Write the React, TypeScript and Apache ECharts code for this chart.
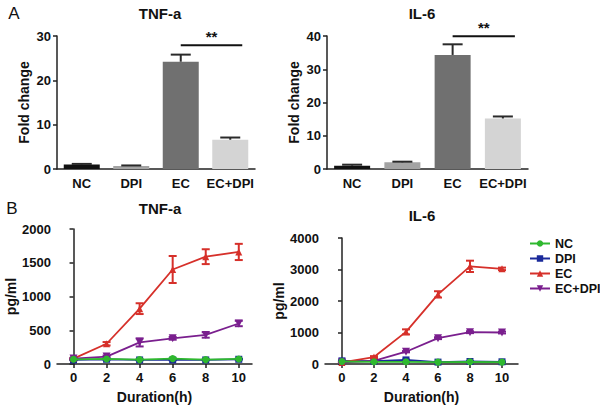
import React, { useEffect, useRef } from "react";
import * as echarts from "echarts";

const barCats = ["NC", "DPI", "EC", "EC+DPI"];
const tnfBar = [1.0, 0.7, 24.2, 6.6];
const tnfBarErr = [0.15, 0.1, 1.6, 0.5];
const il6Bar = [1.0, 2.0, 34.3, 15.2];
const il6BarErr = [0.3, 0.2, 3.2, 0.6];
const barColors = ["#111111", "#a3a3a3", "#707070", "#d4d4d4"];
const tnfSigY = 27.9;
const il6SigY = 39.9;

const hours = [0, 2, 4, 6, 8, 10];
const tnfNC = [70, 75, 65, 80, 65, 75];
const tnfNCErr = [10, 5, 5, 10, 5, 5];
const tnfDPI = [60, 70, 60, 60, 60, 70];
const tnfDPIErr = [5, 5, 5, 5, 5, 5];
const tnfEC = [80, 300, 820, 1400, 1590, 1660];
const tnfECErr = [10, 25, 80, 200, 110, 120];
const tnfECDPI = [80, 110, 320, 380, 430, 600];
const tnfECDPIErr = [10, 15, 60, 20, 40, 40];

const il6NC = [80, 70, 70, 60, 70, 60];
const il6NCErr = [10, 5, 5, 5, 5, 5];
const il6DPI = [100, 90, 130, 60, 80, 70];
const il6DPIErr = [10, 5, 10, 5, 5, 5];
const il6EC = [50, 220, 1020, 2210, 3100, 3020];
const il6ECErr = [10, 30, 80, 100, 180, 40];
const il6ECDPI = [50, 100, 390, 820, 1010, 1000];
const il6ECDPIErr = [5, 10, 20, 30, 30, 30];

const seriesNames = ["NC", "DPI", "EC", "EC+DPI"];
const lineColors = ["#2fb82f", "#1a2a9a", "#d6302a", "#7a1f8e"];
const symbols = ["circle", "rect", "triangle", "path://M0,0 L10,0 L5,10 Z"];

const FONT = "Liberation Sans, Arial, sans-serif";
const AX = "#222";

function barErrSeries(vals: number[], errs: number[], idx: number) {
  return {
    type: "custom",
    xAxisIndex: idx,
    yAxisIndex: idx,
    z: 5,
    data: vals.map((v, i) => [i, v, errs[i]]),
    renderItem: (params: any, api: any) => {
      const x = api.value(0), y = api.value(1), e = api.value(2);
      const b = api.coord([x, y]);
      const t = api.coord([x, y + e]);
      const hw = 10;
      const st = { stroke: "#2a2a2a", lineWidth: 2 };
      return {
        type: "group",
        children: [
          { type: "line", shape: { x1: b[0], y1: b[1], x2: t[0], y2: t[1] }, style: st },
          { type: "line", shape: { x1: t[0] - hw, y1: t[1], x2: t[0] + hw, y2: t[1] }, style: st },
        ],
      };
    },
  };
}

function sigSeries(idx: number, y: number) {
  return {
    type: "custom",
    xAxisIndex: idx,
    yAxisIndex: idx,
    z: 6,
    silent: true,
    data: [[2, 3, y]],
    renderItem: (params: any, api: any) => {
      const a = api.coord([api.value(0), api.value(2)]);
      const b = api.coord([api.value(1), api.value(2)]);
      const x2 = b[0] + 12;
      return {
        type: "group",
        children: [
          { type: "line", shape: { x1: a[0], y1: a[1], x2, y2: a[1] }, style: { stroke: "#111", lineWidth: 2 } },
          {
            type: "text",
            x: (a[0] + x2) / 2,
            y: a[1] - 1,
            style: {
              text: "**",
              fill: "#111",
              font: `bold 15px ${FONT}`,
              textAlign: "center",
              textVerticalAlign: "bottom",
            },
          },
        ],
      };
    },
  };
}

function lineErrSeries(vals: number[], errs: number[], idx: number, color: string) {
  return {
    type: "custom",
    xAxisIndex: idx,
    yAxisIndex: idx,
    z: 4,
    data: vals.map((v, i) => [hours[i], v, errs[i]]),
    renderItem: (params: any, api: any) => {
      const x = api.value(0), y = api.value(1), e = api.value(2);
      const t = api.coord([x, y + e]);
      const b = api.coord([x, y - e]);
      const hw = 4;
      const st = { stroke: color, lineWidth: 2 };
      return {
        type: "group",
        children: [
          { type: "line", shape: { x1: b[0], y1: b[1], x2: t[0], y2: t[1] }, style: st },
          { type: "line", shape: { x1: t[0] - hw, y1: t[1], x2: t[0] + hw, y2: t[1] }, style: st },
          { type: "line", shape: { x1: b[0] - hw, y1: b[1], x2: b[0] + hw, y2: b[1] }, style: st },
        ],
      };
    },
  };
}

const axisLineStyle = { show: true, lineStyle: { color: AX, width: 1.5 } };
const labelStyle = { color: "#111", fontFamily: FONT, fontWeight: "bold" as const, fontSize: 13 };
const nameStyle = { color: "#111", fontFamily: FONT, fontWeight: "bold" as const, fontSize: 14 };

export default function App() {
  const ref = useRef<HTMLDivElement>(null);
  useEffect(() => {
    if (!ref.current) return;
    const chart = echarts.init(ref.current, null, { renderer: "svg" });

    const barX = (idx: number) => ({
      type: "category",
      gridIndex: idx,
      data: barCats,
      axisLine: axisLineStyle,
      axisTick: { show: false },
      axisLabel: { ...labelStyle, margin: 8, interval: 0 },
    });
    const valY = (idx: number, max: number, interval: number, name: string, gap: number) => ({
      type: "value",
      gridIndex: idx,
      min: 0,
      max,
      interval,
      name,
      nameLocation: "middle",
      nameGap: gap,
      nameTextStyle: nameStyle,
      axisLine: axisLineStyle,
      axisTick: { show: true, length: 4, lineStyle: { color: AX, width: 1.5 } },
      axisLabel: { ...labelStyle, margin: 6, formatter: (v: number) => String(v) },
      splitLine: { show: false },
    });
    const lineX = (idx: number, min: number, max: number) => ({
      type: "value",
      gridIndex: idx,
      min,
      max,
      name: "Duration(h)",
      nameLocation: "middle",
      nameGap: 26,
      nameTextStyle: nameStyle,
      axisLine: axisLineStyle,
      axisTick: { show: true, length: 4, customValues: hours, lineStyle: { color: AX, width: 1.5 } },
      axisLabel: { ...labelStyle, margin: 7, customValues: hours },
      splitLine: { show: false },
    });

    const lineSeries = (idx: number, datas: number[][]) =>
      datas.map((d, k) => ({
        type: "line",
        name: seriesNames[k],
        xAxisIndex: idx,
        yAxisIndex: idx,
        data: d.map((v, i) => [hours[i], v]),
        symbol: symbols[k],
        symbolSize: k === 3 ? 8 : 7,
        itemStyle: { color: lineColors[k] },
        lineStyle: { color: lineColors[k], width: 1.8 },
        z: k === 0 ? 6 : 3,
      }));

    const titleText = (text: string, x: number, y: number, size = 15, bold = true) => ({
      type: "text",
      x,
      y,
      style: {
        text,
        fill: "#111",
        font: `${bold ? "bold " : ""}${size}px ${FONT}`,
        textAlign: "center",
        textVerticalAlign: "middle",
      },
    });

    const option: any = {
      animation: false,
      backgroundColor: "#fff",
      grid: [
        { left: 57, top: 36, width: 198, height: 133 },
        { left: 327, top: 36, width: 201, height: 133 },
        { left: 57, top: 229, width: 195, height: 135 },
        { left: 325, top: 238, width: 193, height: 126 },
      ],
      xAxis: [barX(0), barX(1), lineX(2, -1, 10.8), lineX(3, -1.06, 11)],
      yAxis: [
        valY(0, 30, 10, "Fold change", 26),
        valY(1, 40, 10, "Fold change", 26),
        valY(2, 2000, 500, "pg/ml", 38),
        valY(3, 4000, 1000, "pg/ml", 35),
      ],
      legend: {
        orient: "vertical",
        left: 524,
        top: 232,
        itemGap: 2,
        itemWidth: 20,
        itemHeight: 8,
        data: seriesNames,
        textStyle: { ...labelStyle, fontSize: 12.5 },
      },
      graphic: [
        titleText("A", 14, 13, 17, false),
        titleText("B", 12, 208, 17, false),
        titleText("TNF-a", 160, 13),
        titleText("IL-6", 422, 13),
        titleText("TNF-a", 160, 208),
        titleText("IL-6", 422, 215),
      ],
      series: [
        {
          type: "bar",
          xAxisIndex: 0,
          yAxisIndex: 0,
          barWidth: 36,
          data: tnfBar.map((v, i) => ({ value: v, itemStyle: { color: barColors[i] } })),
        },
        barErrSeries(tnfBar, tnfBarErr, 0),
        sigSeries(0, tnfSigY),
        {
          type: "bar",
          xAxisIndex: 1,
          yAxisIndex: 1,
          barWidth: 36,
          data: il6Bar.map((v, i) => ({ value: v, itemStyle: { color: barColors[i] } })),
        },
        barErrSeries(il6Bar, il6BarErr, 1),
        sigSeries(1, il6SigY),
        ...lineSeries(2, [tnfNC, tnfDPI, tnfEC, tnfECDPI]),
        lineErrSeries(tnfNC, tnfNCErr, 2, lineColors[0]),
        lineErrSeries(tnfDPI, tnfDPIErr, 2, lineColors[1]),
        lineErrSeries(tnfEC, tnfECErr, 2, lineColors[2]),
        lineErrSeries(tnfECDPI, tnfECDPIErr, 2, lineColors[3]),
        ...lineSeries(3, [il6NC, il6DPI, il6EC, il6ECDPI]),
        lineErrSeries(il6NC, il6NCErr, 3, lineColors[0]),
        lineErrSeries(il6DPI, il6DPIErr, 3, lineColors[1]),
        lineErrSeries(il6EC, il6ECErr, 3, lineColors[2]),
        lineErrSeries(il6ECDPI, il6ECDPIErr, 3, lineColors[3]),
      ],
    };
    chart.setOption(option);
    return () => chart.dispose();
  }, []);
  return <div ref={ref} style={{ width: 600, height: 411, position: "absolute", left: 0, top: 0 }} />;
}
